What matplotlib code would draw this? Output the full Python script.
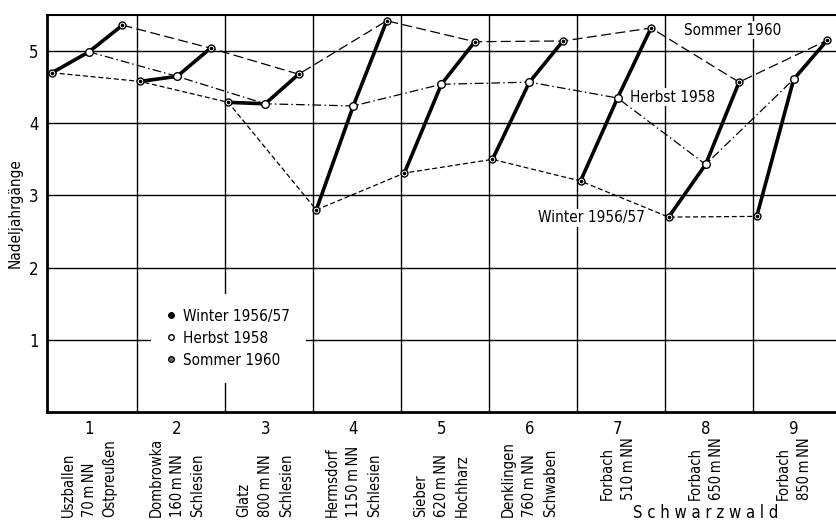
import matplotlib
matplotlib.use("Agg")
import matplotlib.pyplot as plt
from matplotlib import font_manager
from matplotlib.lines import Line2D

# data (Nadeljahrgänge per site and season)
sites = [1, 2, 3, 4, 5, 6, 7, 8, 9]
TS = "\u2009"  # thin space, as in the printed elevations
site_labels = [
    f"Uszballen\n70{TS}m{TS}NN\nOstpreußen",
    f"Dombrowka\n160{TS}m{TS}NN\nSchlesien",
    f"Glatz\n800{TS}m{TS}NN\nSchlesien",
    f"Hermsdorf\n1150{TS}m{TS}NN\nSchlesien",
    f"Sieber\n620{TS}m{TS}NN\nHochharz",
    f"Denklingen\n760{TS}m{TS}NN\nSchwaben",
    f"Forbach\n510{TS}m{TS}NN",
    f"Forbach\n650{TS}m{TS}NN",
    f"Forbach\n850{TS}m{TS}NN",
]
winter = [4.70, 4.58, 4.29, 2.80, 3.31, 3.50, 3.20, 2.70, 2.71]
herbst = [4.99, 4.65, 4.27, 4.24, 4.54, 4.57, 4.35, 3.43, 4.61]
sommer = [5.36, 5.04, 4.68, 5.42, 5.13, 5.14, 5.32, 4.57, 5.15]
yticks = [1, 2, 3, 4, 5]

# pick a narrow font if one is installed
names = {f.name for f in font_manager.fontManager.ttflist}
cond = [f for f in font_manager.fontManager.ttflist
        if f.name == "DejaVu Sans" and "ondensed" in f.fname]
if cond:
    FONT = dict(family="DejaVu Sans", stretch="condensed")
elif "Liberation Sans Narrow" in names:
    FONT = dict(family="Liberation Sans Narrow")
else:
    FONT = dict(family="DejaVu Sans")
plt.rcParams["font.family"] = FONT["family"]
if "stretch" in FONT:
    plt.rcParams["font.stretch"] = FONT["stretch"]

off_w, off_h, off_s = -0.42, 0.0, 0.38
xw = [s + off_w for s in sites]
xh = [s + off_h for s in sites]
xs = [s + off_s for s in sites]

fig = plt.figure(figsize=(8.36, 5.21), dpi=100)
ax = fig.add_axes([47 / 836, 1 - 412 / 521, 1 - 47 / 836, 397 / 521])

# grid
for y in yticks:
    ax.axhline(y, color="black", lw=1.0, zorder=1)
for s in sites[:-1]:
    ax.axvline(s + 0.54, color="black", lw=1.0, zorder=1)

# season lines across sites
ax.plot(xw, winter, color="black", lw=0.9, dashes=(4, 2.2), zorder=2)
ax.plot(xh, herbst, color="black", lw=0.9, dashes=(7, 2.5, 1.2, 2.5), zorder=2)
ax.plot(xs, sommer, color="black", lw=0.9, dashes=(8, 3.5), zorder=2)

# thick line inside each site
for i in range(len(sites)):
    ax.plot([xw[i], xh[i], xs[i]], [winter[i], herbst[i], sommer[i]],
            color="black", lw=2.6, solid_capstyle="round", zorder=3)

mk = dict(linestyle="none", markersize=5, markeredgewidth=1.0,
          markeredgecolor="black", markerfacecolor="white", zorder=4)
ax.plot(xw, winter, marker="o", **mk)
ax.plot(xs, sommer, marker="o", **mk)
ax.plot(xh, herbst, marker="o", **dict(mk, markersize=5.5))
ax.plot(xw, winter, marker="o", linestyle="none", markersize=1.6,
        color="black", zorder=5)
ax.plot(xs, sommer, marker="o", linestyle="none", markersize=1.6,
        color="black", zorder=5)

# series labels
box = dict(facecolor="white", edgecolor="none", pad=1)
ax.text(8.31, 5.29, "Sommer 1960", fontsize=11, ha="center", va="center", bbox=box, zorder=6)
ax.text(7.63, 4.36, "Herbst 1958", fontsize=11, ha="center", va="center", bbox=box, zorder=6)
ax.text(6.70, 2.69, "Winter 1956/57", fontsize=11, ha="center", va="center", bbox=box, zorder=6)

# legend
handles = [
    Line2D([], [], marker="o", linestyle="none", markersize=4, color="black"),
    Line2D([], [], marker="o", linestyle="none", markersize=4,
           markerfacecolor="white", markeredgecolor="black"),
    Line2D([], [], marker="o", linestyle="none", markersize=4,
           markerfacecolor="0.45", markeredgecolor="black"),
]
leg = ax.legend(handles, ["Winter 1956/57", "Herbst 1958", "Sommer 1960"],
                loc="center", bbox_to_anchor=(0.23, 0.186), frameon=True,
                fontsize=11, handlelength=0.6, handletextpad=0.5,
                labelspacing=0.45, borderpad=1.0, fancybox=False)
leg.get_frame().set_edgecolor("none")
leg.get_frame().set_facecolor("white")
leg.get_frame().set_alpha(1)
leg.set_zorder(7)

ax.set_xlim(0.523, 9.48)
ax.set_ylim(0, 5.5)
ax.set_yticks(yticks)
ax.set_yticklabels([str(y) for y in yticks], fontsize=12)
ax.set_xticks(sites)
ax.set_xticklabels([str(s) for s in sites], fontsize=12)
ax.tick_params(length=0, pad=6)
ax.set_ylabel("Nadeljahrgänge", fontsize=11, labelpad=5)

for side in ["left", "bottom"]:
    ax.spines[side].set_linewidth(2.0)
ax.spines["top"].set_linewidth(1.5)
ax.spines["right"].set_visible(False)

# site descriptions below the axis
xform = ax.get_xaxis_transform()
for s, lab in zip(sites, site_labels):
    ybot = -0.264 if s <= 6 else -0.222
    ax.text(s, ybot, lab, transform=xform, rotation=90, ha="center",
            va="bottom", multialignment="left", fontsize=10.5,
            linespacing=1.5, clip_on=False)
ax.text(8.0, -0.255, "S c h w a r z w a l d", transform=xform,
        ha="center", va="center", fontsize=12, clip_on=False)

fig.savefig("out.png", dpi=100)
